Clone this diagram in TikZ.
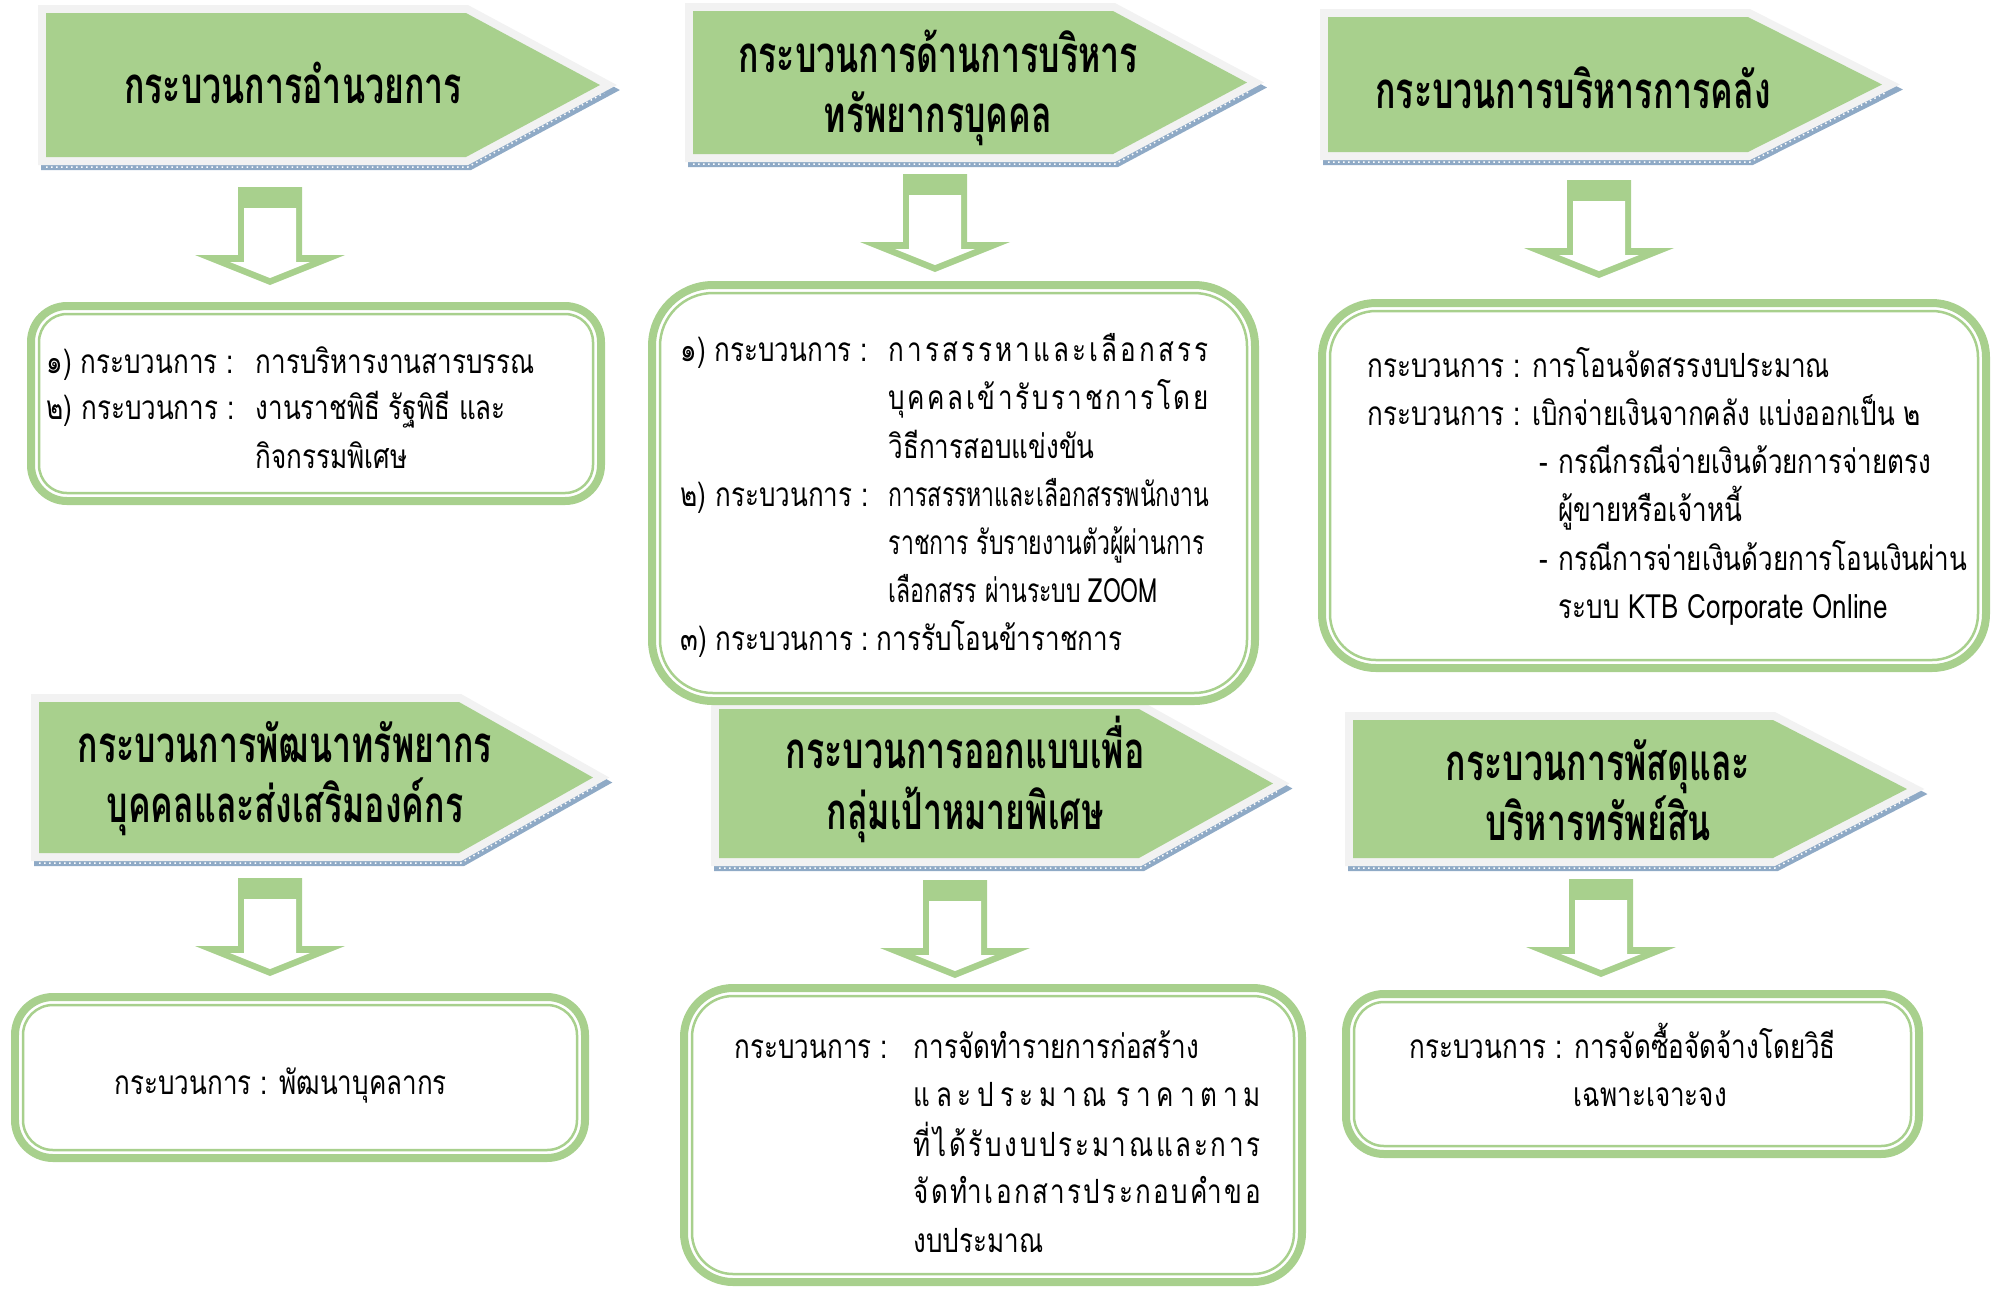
\documentclass[tikz,border=0pt]{standalone}
\usepackage{fontspec}
\newfontfamily\thaibody[Script=Thai,FakeStretch=0.78]{Loma}
\newfontfamily\thaitight[Script=Thai,FakeStretch=0.69]{Loma}
\newfontfamily\thaihead[Script=Thai,FakeStretch=0.665]{Loma}
\definecolor{leaf}{HTML}{A8D08D}
\definecolor{rim}{HTML}{F2F2F2}
\definecolor{dusk}{HTML}{8FAAC6}
\newcommand{\spread}[2]{\makebox[#1][s]{\spaceskip=0pt plus 1fil\relax#2}}
\tikzset{
	head/.style={font=\thaihead\bfseries\fontsize{14.5}{17}\selectfont, anchor=base, inner sep=0pt},
	body/.style={font=\thaibody\fontsize{9.5}{11}\selectfont, anchor=base west, inner sep=0pt},
	tight/.style={body, font=\thaitight\fontsize{9.5}{11}\selectfont},
}
\begin{document}
\begin{tikzpicture}[x=0.1mm, y=-0.1mm]
\useasboundingbox (0,0) rectangle (2000,1288);

% Cabeceras (flechas pentagonales)
	\foreach \x/\t/\b in {46/13/157, 693/11/154, 1328/17/152, 39/702/853, 719/709/858, 1353/720/858}
	{
		\draw[dusk, line width=1.6mm, shift={(3,5)}] (\x,\t) -- ({\x+420},\t) -- ({\x+554},{(\t+\b)/2}) -- ({\x+420},\b) -- (\x,\b) -- cycle;
		\draw[white, line width=0.15mm, densely dotted] (\x,{\b+10}) -- ({\x+422},{\b+10}) -- ({\x+558},{(\t+\b)/2+8});
		\draw[rim, line width=1.6mm] (\x,\t) -- ({\x+420},\t) -- ({\x+554},{(\t+\b)/2}) -- ({\x+420},\b) -- (\x,\b) -- cycle;
		\fill[leaf] (\x,\t) -- ({\x+420},\t) -- ({\x+554},{(\t+\b)/2}) -- ({\x+420},\b) -- (\x,\b) -- cycle;
	}

% Flechas hacia abajo
	\foreach \x/\y in {270/187, 935/174, 1599/180, 270/878, 955/880, 1601/879}
	{
		\begin{scope}[shift={(\x,\y)}]
			\fill[leaf] (-32,0) -- (32,0) -- (32,68) -- (75,68) -- (0,98) -- (-75,68) -- (-32,68) -- cycle;
			\fill[white] (-26,21) -- (26,21) -- (26,75) -- (40,75) -- (0,91) -- (-40,75) -- (-26,75) -- cycle;
		\end{scope}
	}

% Cajas de doble borde
	\foreach \xa/\ya/\xb/\yb/\ra/\rb in {27/302/605/505/3.6/2.8, 648/281/1259/705/6.1/5.3, 1318/299/1990/672/5.4/4.6, 11/993/589/1162/3.8/3.0, 680/984/1306/1286/4.9/4.1, 1342/990/1923/1158/3.8/3.0}
	{
		\draw[leaf, line width=0.8mm, rounded corners=\ra mm] ({\xa+4},{\ya+4}) rectangle ({\xb-4},{\yb-4});
		\draw[leaf, line width=0.25mm, rounded corners=\rb mm] ({\xa+12},{\ya+12}) rectangle ({\xb-12},{\yb-12});
	}

% Titulos
	\node[head] (adm) at (293,103) {กระบวนการอำนวยการ};
	\node[head] (hr-a) at (938,72) {กระบวนการด้านการบริหาร};
	\node[head] (hr-b) at (938,132) {ทรัพยากรบุคคล};
	\node[head] (fin) at (1573,108) {กระบวนการบริหารการคลัง};
	\node[head] (dev-a) at (285,762) {กระบวนการพัฒนาทรัพยากร};
	\node[head] (dev-b) at (285,822) {บุคคลและส่งเสริมองค์กร};
	\node[head] (des-a) at (965,768) {กระบวนการออกแบบเพื่อ};
	\node[head] (des-b) at (965,829) {กลุ่มเป้าหมายพิเศษ};
	\node[head] (sup-a) at (1598,780) {กระบวนการพัสดุและ};
	\node[head] (sup-b) at (1598,840) {บริหารทรัพย์สิน};

% Caja 1
	\node[body] (adm-k1) at (46,373) {๑) กระบวนการ :};
	\node[body] (adm-k2) at (46,419) {๒) กระบวนการ :};
	\node[body] (adm-v1) at (255,373) {การบริหารงานสารบรรณ};
	\node[body] (adm-v2) at (255,419) {งานราชพิธี รัฐพิธี และ};
	\node[body] (adm-v3) at (255,468) {กิจกรรมพิเศษ};

% Caja 2
	\node[body] (hr-k1) at (680,361) {๑) กระบวนการ :};
	\node[body] (hr-k2) at (680,506) {๒) กระบวนการ :};
	\node[body] (hr-k3) at (680,650) {๓) กระบวนการ :};
	\node[body] (hr-v1) at (888,361) {\spread{32mm}{ก า ร ส ร ร ห า แ ล ะ เ ลื อ ก ส ร ร}};
	\node[body] (hr-v2) at (888,409) {\spread{32mm}{บุ ค ค ล เ ข้ า รั บ ร า ช ก า ร โ ด ย}};
	\node[body] (hr-v3) at (888,458) {วิธีการสอบแข่งขัน};
	\node[tight] (hr-v4) at (888,506) {การสรรหาและเลือกสรรพนักงาน};
	\node[tight] (hr-v5) at (888,554) {ราชการ รับรายงานตัวผู้ผ่านการ};
	\node[tight] (hr-v6) at (888,602) {เลือกสรร ผ่านระบบ ZOOM};
	\node[body] (hr-v7) at (876,650) {การรับโอนข้าราชการ};

% Caja 3
	\node[body] (fin-1) at (1367,377) {กระบวนการ : การโอนจัดสรรงบประมาณ};
	\node[body] (fin-2) at (1367,425) {กระบวนการ : เบิกจ่ายเงินจากคลัง แบ่งออกเป็น ๒};
	\node[body] (fin-d1) at (1539,473) {-};
	\node[body] (fin-3) at (1558,473) {กรณีกรณีจ่ายเงินด้วยการจ่ายตรง};
	\node[body] (fin-4) at (1558,521) {ผู้ขายหรือเจ้าหนี้};
	\node[body] (fin-d2) at (1539,570) {-};
	\node[body] (fin-5) at (1558,570) {กรณีการจ่ายเงินด้วยการโอนเงินผ่าน};
	\node[body] (fin-6) at (1558,618) {ระบบ KTB Corporate Online};

% Caja 4
	\node[body] (dev-1) at (114,1094) {กระบวนการ : พัฒนาบุคลากร};

% Caja 5
	\node[body] (des-k) at (734,1058) {กระบวนการ :};
	\node[body] (des-1) at (913,1058) {การจัดทำรายการก่อสร้าง};
	\node[body] (des-2) at (913,1106) {\spread{34.7mm}{แ ล ะ ป ร ะ ม า ณ\hspace{0.4mm} ร า ค า ต า ม}};
	\node[body] (des-3) at (913,1156) {\spread{34.7mm}{ที่ ไ ด้ รั บ ง บ ป ร ะ ม า ณ แ ล ะ ก า ร}};
	\node[body] (des-4) at (913,1203) {\spread{34.7mm}{จั ด ทำ เ อ ก ส า ร ป ร ะ ก อ บ คำ ข อ}};
	\node[body] (des-5) at (913,1252) {งบประมาณ};

% Caja 6
	\node[body] (sup-1) at (1409,1058) {กระบวนการ : การจัดซื้อจัดจ้างโดยวิธี};
	\node[body] (sup-2) at (1573,1106) {เฉพาะเจาะจง};
\end{tikzpicture}
\end{document}
